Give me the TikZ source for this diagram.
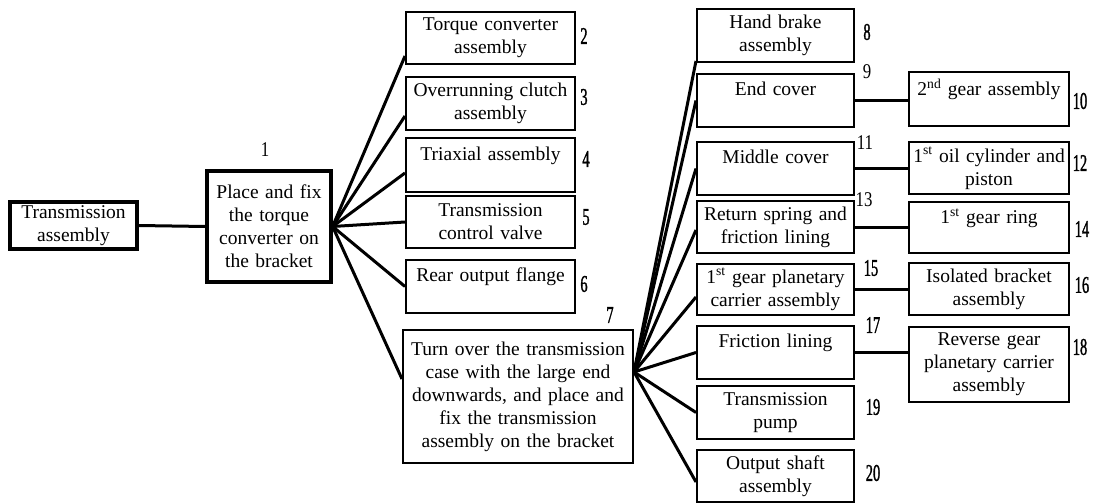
\documentclass[tikz,border=0pt]{standalone}
\usepackage{fontspec}
\setmainfont{Liberation Serif}
\newfontfamily\numcond[FakeStretch=0.6,FakeBold=1.2]{Liberation Serif}
\newfontfamily\numnarrow[FakeStretch=0.8]{Liberation Serif}
\begin{document}
\begin{tikzpicture}[x=1pt,y=-1pt,
  box/.style={draw, line width=2pt, inner sep=0pt, align=center,
              font=\fontsize{19.5}{23}\selectfont},
  heavy/.style={line width=3.2pt},
  colA/.style={box, minimum width=169pt, text width=165pt},
  colB/.style={box, minimum width=157pt, text width=153pt},
  colC/.style={box, minimum width=160pt, text width=156pt},
  conn/.style={line width=3pt},
  num/.style={inner sep=0pt, font=\numcond\fontsize{24}{24}\selectfont},
  numr/.style={inner sep=0pt, font=\numnarrow\fontsize{21}{21}\selectfont}]
\useasboundingbox (0,0) rectangle (1093,503);

% main steps
\node[box, heavy, minimum width=127pt, text width=123pt, minimum height=47pt] (ta) at (73.5,225.5) {Transmission\\assembly};
\node[box, heavy, minimum width=124pt, text width=120pt, minimum height=111pt] (b1) at (269,226.5) {Place and fix\\the torque\\converter on\\the bracket};
\node[box, minimum width=230pt, text width=226pt, minimum height=133pt] (b7) at (518,396.5) {Turn over the transmission\\case with the large end\\downwards, and place and\\fix the transmission\\assembly on the bracket};

% parts fitted in step 1
\node[colA, minimum height=52pt] (b2) at (490.5,38) {Torque converter\\assembly};
\node[colA, minimum height=53pt] (b3) at (490.5,103.5) {Overrunning clutch\\assembly};
\node[colA, minimum height=54pt] (b4) at (490.5,165) {Triaxial assembly\\\mbox{}};
\node[colA, minimum height=52pt] (b5) at (490.5,222) {Transmission\\control valve};
\node[colA, minimum height=53pt] (b6) at (490.5,286.5) {Rear output flange\\\mbox{}};

% parts fitted in step 7
\node[colB, minimum height=53pt] (b8) at (775.5,35.5) {Hand brake\\assembly};
\node[colB, minimum height=53pt] (b9) at (775.5,100.5) {End cover\\\mbox{}};
\node[colB, minimum height=53pt] (b11) at (775.5,168.5) {Middle cover\\\mbox{}};
\node[colB, minimum height=52pt] (b13) at (775.5,227) {Return spring and\\friction lining};
\node[colB, minimum height=51pt] (b15) at (775.5,289.5) {1\textsuperscript{st} gear planetary\\carrier assembly};
\node[colB, minimum height=53pt] (b17) at (775.5,352.5) {Friction lining\\\mbox{}};
\node[colB, minimum height=53pt] (b19) at (775.5,412.5) {Transmission\\pump};
\node[colB, minimum height=52pt] (b20) at (775.5,476) {Output shaft\\assembly};

% sub-assemblies
\node[colC, minimum height=54pt] (b10) at (989,99) {2\textsuperscript{nd} gear assembly\\\mbox{}};
\node[colC, minimum height=52pt] (b12) at (989,168) {1\textsuperscript{st} oil cylinder and\\piston};
\node[colC, minimum height=51pt] (b14) at (989,227.5) {1\textsuperscript{st} gear ring\\\mbox{}};
\node[colC, minimum height=52pt] (b16) at (989,289) {Isolated bracket\\assembly};
\node[colC, minimum height=75pt] (b18) at (989,364.5) {Reverse gear\\planetary carrier\\assembly};

% step numbers
\node[numr] (n1) at (265,150) {1};
\node[num] (n2) at (584,36) {2};
\node[num] (n3) at (584,97) {3};
\node[num] (n4) at (586,159) {4};
\node[num] (n5) at (586,217) {5};
\node[num] (n6) at (584,284) {6};
\node[num] (n7) at (610,315) {7};
\node[num] (n8) at (867,32) {8};
\node[numr] (n9) at (867,72) {9};
\node[num] (n10) at (1080,101) {10};
\node[numr] (n11) at (865,143) {11};
\node[num] (n12) at (1080,163) {12};
\node[numr] (n13) at (864,200) {13};
\node[num] (n14) at (1082,229) {14};
\node[num] (n15) at (871,268) {15};
\node[num] (n16) at (1082,285) {16};
\node[num] (n17) at (873,325) {17};
\node[num] (n18) at (1080,347) {18};
\node[num] (n19) at (873,407) {19};
\node[num] (n20) at (873,473) {20};

% connectors
\draw[conn] (ta.east) -- (b1.west);
\draw[conn] (b1.east) -- ([yshift=9pt]b2.south west);
\draw[conn] (b1.east) -- ([yshift=15pt]b3.south west);
\draw[conn] (b1.east) -- ([yshift=20pt]b4.south west);
\draw[conn] (b1.east) -- (b5.west);
\draw[conn] (b1.east) -- (b6.west);
\draw[conn] (b1.east) -- ([yshift=-50pt]b7.north west);

\coordinate (hub7) at ([yshift=-43pt]b7.north east);
\draw[conn] (hub7) -- ([yshift=2pt]b8.south west);
\draw[conn] (hub7) -- (b9.west);
\draw[conn] (hub7) -- (b11.west);
\draw[conn] (hub7) -- ([yshift=-3pt]b13.west);
\draw[conn] (hub7) -- ([yshift=-7.5pt]b15.west);
\draw[conn] (hub7) -- (b17.west);
\draw[conn] (hub7) -- (b19.west);
\draw[conn] (hub7) -- ([yshift=-6pt]b20.west);

\draw[conn] (b9.east) -- (b9.east -| b10.west);
\draw[conn] (b11.east) -- (b11.east -| b12.west);
\draw[conn] (b13.east) -- (b13.east -| b14.west);
\draw[conn] (b15.east) -- (b15.east -| b16.west);
\draw[conn] (b17.east) -- (b17.east -| b18.west);
\end{tikzpicture}
\end{document}
